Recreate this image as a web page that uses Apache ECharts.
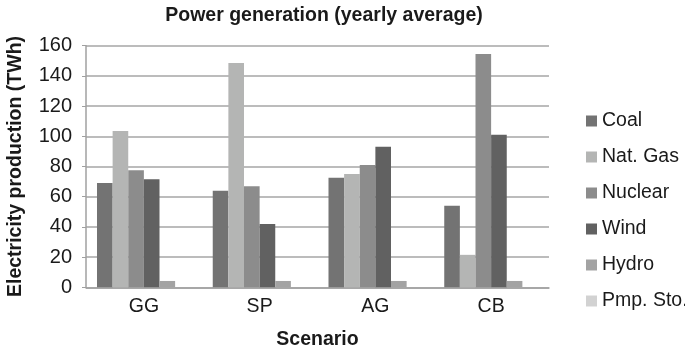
<!DOCTYPE html>
<html><head><meta charset="utf-8">
<script src="https://cdn.jsdelivr.net/npm/echarts@6/dist/echarts.min.js"></script>
<style>html,body{margin:0;padding:0;background:#fff}#c{width:685px;height:349px}</style>
</head><body><div id="c"></div>
<script>
var categories = ['GG', 'SP', 'AG', 'CB'];
var seriesNames = ['Coal', 'Nat. Gas', 'Nuclear', 'Wind', 'Hydro', 'Pmp. Sto.'];
var coal = [69, 64, 72.5, 54];
var natGas = [103.5, 148.5, 75, 21.5];
var nuclear = [77.5, 67, 81, 154.5];
var wind = [71.5, 42, 93, 101];
var hydro = [4.2, 4.2, 4.2, 4.2];
var pmpSto = [0, 0, 0, 0];
var yTicks = [0, 20, 40, 60, 80, 100, 120, 140, 160];

var values = [coal, natGas, nuclear, wind, hydro, pmpSto];
var colors = ['#737373', '#b4b5b4', '#8c8c8c', '#616161', '#a3a3a3', '#d2d2d2'];
var font = 'Liberation Sans, Arial, sans-serif';
var chart = echarts.init(document.getElementById('c'), null, {renderer: 'canvas'});
chart.setOption({
  animation: false,
  title: {
    text: 'Power generation (yearly average)',
    left: 319, top: 1, textAlign: 'center',
    textStyle: {fontFamily: font, fontSize: 19.5, fontWeight: 'bold', color: '#1a1a1a'}
  },
  grid: {left: 86, right: 136, top: 45.7, bottom: 61.7, containLabel: false, outerBoundsMode: 'none'},
  legend: {
    orient: 'vertical', left: 581, top: 106,
    itemWidth: 11, itemHeight: 11, itemGap: 16, icon: 'rect',
    textStyle: {fontFamily: font, fontSize: 19.5, color: '#1a1a1a'},
    data: seriesNames
  },
  xAxis: {
    type: 'category', data: categories,
    name: 'Scenario', nameLocation: 'middle', nameGap: 42,
    nameTextStyle: {fontFamily: font, fontSize: 19.5, fontWeight: 'bold', color: '#1a1a1a'},
    axisLine: {lineStyle: {color: '#a0a0a0', width: 1.5}},
    axisTick: {show: false},
    axisLabel: {fontFamily: font, fontSize: 19.5, color: '#1a1a1a', margin: 9}
  },
  yAxis: {
    type: 'value', min: 0, max: 160, interval: 20,
    name: 'Electricity production (TWh)', nameLocation: 'middle', nameGap: 60,
    nameTextStyle: {fontFamily: font, fontSize: 19.5, fontWeight: 'bold', color: '#1a1a1a'},
    axisLine: {show: true, lineStyle: {color: '#a0a0a0', width: 1.5}},
    axisTick: {show: true, length: 4, lineStyle: {color: '#a0a0a0'}},
    splitLine: {lineStyle: {color: '#a6a6a6', width: 1.5}},
    axisLabel: {fontFamily: font, fontSize: 20, color: '#1a1a1a', margin: 14,
      formatter: function (v) { return yTicks.indexOf(v) >= 0 ? String(v) : ''; }}
  },
  series: seriesNames.map(function (n, i) {
    return {
      name: n, type: 'bar', data: values[i],
      barGap: '0%', barCategoryGap: '19%',
      itemStyle: {color: colors[i]}
    };
  })
});
</script></body></html>
